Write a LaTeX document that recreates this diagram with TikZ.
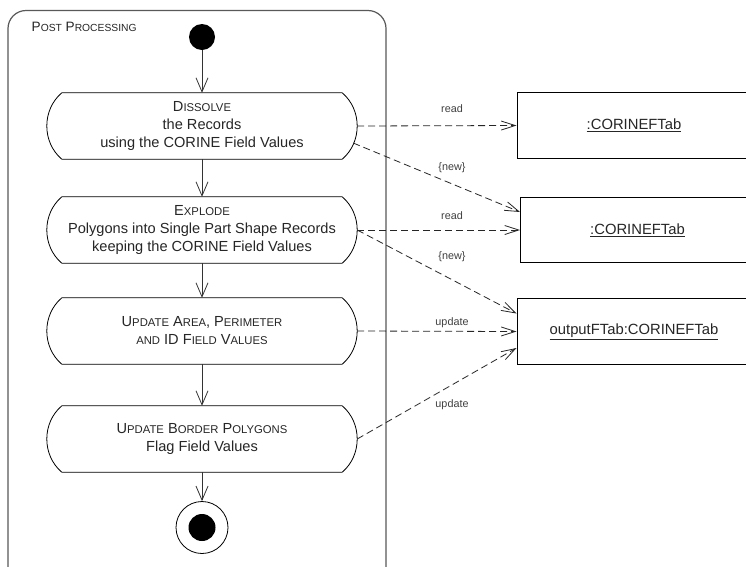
\documentclass[tikz,border=0pt]{standalone}
\usepackage{fontspec}
\setmainfont{Liberation Sans}
\usetikzlibrary{arrows.meta,calc}

% reduced capitals for the small-caps look
\newcommand\smc[1]{{\fontsize{11.3pt}{12pt}\selectfont #1}}
\newcommand\lsmc[1]{{\fontsize{10.3pt}{11pt}\selectfont #1}}

% outline of an action node: straight top and bottom, bulging sides
\newcommand\actionoutline[1]{%
  \draw[actline] ($(#1.north west)+(15,0)$) -- ($(#1.north east)+(-15,0)$)
    .. controls ($(#1.north east)+(5,17)$) and ($(#1.south east)+(5,-17)$) .. ($(#1.south east)+(-15,0)$)
    -- ($(#1.south west)+(15,0)$)
    .. controls ($(#1.south west)+(-5,-17)$) and ($(#1.north west)+(-5,17)$) .. cycle;}

\tikzset{
  x=1pt, y=-1pt,
  actline/.style={draw=black, line width=0.8pt},
  action/.style={rectangle, draw=none, minimum width=310pt, minimum height=66pt,
    inner sep=0pt, align=center, font=\fontsize{14.6pt}{18pt}\selectfont, text=black!85},
  objbox/.style={rectangle, draw=black, line width=1pt, inner sep=0pt,
    minimum width=234pt, minimum height=65.5pt, font=\fontsize{14.8pt}{17pt}\selectfont, text=black!85},
  flow/.style={draw=black!80, line width=0.8pt, -{Straight Barb[length=14pt,width=12pt,line width=0.8pt]}},
  dep/.style={draw=black!85, line width=0.8pt, dash pattern=on 7pt off 4pt,
    -{Straight Barb[length=14pt,width=9pt,line width=0.8pt]}},
  deplabel/.style={font=\fontsize{10.8pt}{12pt}\selectfont, text=black!75, inner sep=0pt},
}

\begin{document}
\begin{tikzpicture}
\useasboundingbox (0,0) rectangle (746,566);
\clip (0,0) rectangle (746,566);
\fill[white] (0,0) rectangle (746,566);

% enclosing activity frame
\draw[draw=black!65, line width=1.2pt, rounded corners=18pt] (8,10.5) rectangle (386,585);
\node[anchor=west, inner sep=0pt, font=\fontsize{13.6pt}{14pt}\selectfont, text=black!85]
  (title) at (31.5,27) {P\lsmc{OST} P\lsmc{ROCESSING}};

% initial and final nodes
\node[circle, fill=black, minimum size=26pt, inner sep=0pt] (start) at (202,37) {};
\node[circle, draw=black, line width=0.8pt, minimum size=52pt, inner sep=0pt] (end) at (202,527.5) {};
\node[circle, fill=black, minimum size=27pt, inner sep=0pt] (enddot) at (end) {};

% actions
\node[action] (dis) at (202,126) {D\smc{ISSOLVE}\\the Records\\using the CORINE Field Values};
\node[action] (exp) at (202,230) {E\smc{XPLODE}\\Polygons into Single Part Shape Records\\keeping the CORINE Field Values};
\node[action, font=\fontsize{14.6pt}{18pt}\selectfont] (upd) at (202,331) {U\smc{PDATE} A\smc{REA}, P\smc{ERIMETER}\\\smc{AND} ID F\smc{IELD} V\smc{ALUES}};
\node[action, font=\fontsize{14.6pt}{17.5pt}\selectfont] (bord) at (202,439) {U\smc{PDATE} B\smc{ORDER} P\smc{OLYGONS}\\Flag Field Values};
\actionoutline{dis}
\actionoutline{exp}
\actionoutline{upd}
\actionoutline{bord}

% object nodes
\node[objbox] (t1) at (634,125.5) {\underline{:CORINEFTab}};
\node[objbox] (t2) at (637.5,230) {\underline{:CORINEFTab}};
\node[objbox] (t3) at (634,331.5) {\underline{outputFTab:CORINEFTab}};

% control flow
\draw[flow] (start) -- (dis.north);
\draw[flow] (dis.south) -- (exp.north);
\draw[flow] (exp.south) -- (upd.north);
\draw[flow] (upd.south) -- (bord.north);
\draw[flow] (bord.south) -- (end.north);

% object flow
\coordinate (disnew) at ($(dis.east)+(-4,17)$);
\coordinate (t2in) at ($(t2.west)+(0,-18)$);
\coordinate (t3new) at ($(t3.west)+(0,-18)$);
\coordinate (t3upd) at ($(t3.west)+(0,16.5)$);

\draw[dep] (dis.east) -- (t1.west);
\draw[dep] (disnew) -- (t2in);
\draw[dep] (exp.east) -- (t2.west);
\draw[dep] (exp.east) -- (t3new);
\draw[dep] (upd.east) -- (t3.west);
\draw[dep] (bord.east) -- (t3upd);

\node[deplabel] (l1) at (452,109) {read};
\node[deplabel] (l2) at (452,168) {\{new\}};
\node[deplabel] (l3) at (452,216) {read};
\node[deplabel] (l4) at (452,257) {\{new\}};
\node[deplabel] (l5) at (452,323) {update};
\node[deplabel] (l6) at (452,405) {update};
\end{tikzpicture}
\end{document}
